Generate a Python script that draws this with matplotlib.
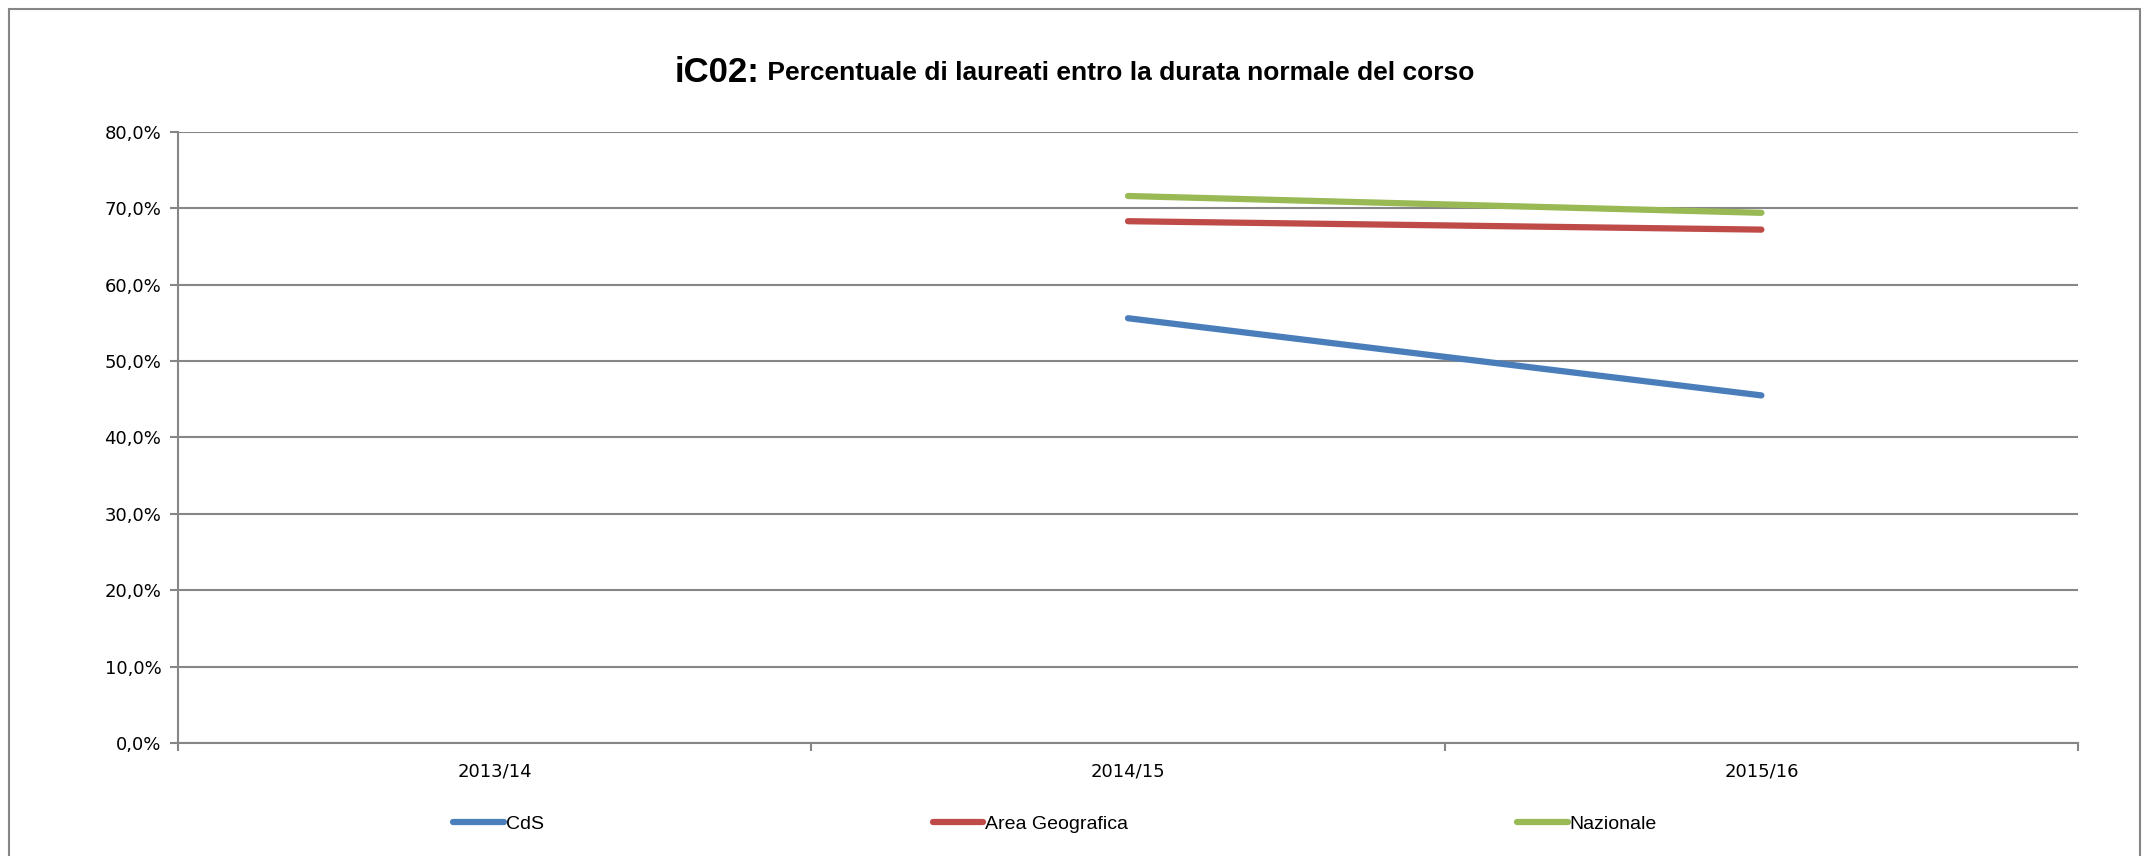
import numpy as np
import matplotlib.pyplot as plt
from matplotlib.ticker import FuncFormatter, FixedLocator
from matplotlib.patches import Rectangle

# data (percent)
years = ['2013/14', '2014/15', '2015/16']
cds = [np.nan, 55.6, 45.5]
area_geo = [np.nan, 68.3, 67.2]
nazionale = [np.nan, 71.6, 69.4]

colors = {'CdS': '#4A7EBB', 'Area Geografica': '#BE4B48', 'Nazionale': '#98B954'}
grid_col = '#868686'
narrow = ['Liberation Sans Narrow', 'Liberation Sans', 'DejaVu Sans']

fig = plt.figure(figsize=(21.49, 8.56), dpi=100)
ax = fig.add_axes([0.0828, 0.132, 0.967 - 0.0828, 0.846 - 0.132])

x = np.arange(len(years))
for name, vals in [('CdS', cds), ('Area Geografica', area_geo), ('Nazionale', nazionale)]:
    ax.plot(x, vals, color=colors[name], linewidth=4.5, solid_capstyle='round', label=name, zorder=3)

ax.set_xlim(-0.5, len(years) - 0.5)
ax.set_ylim(0, 80)
ax.set_yticks(np.arange(0, 81, 10))
ax.yaxis.set_major_formatter(FuncFormatter(lambda v, p: f'{v:.1f}%'.replace('.', ',')))
ax.set_xticks(x)
ax.set_xticklabels(years)
ax.xaxis.set_minor_locator(FixedLocator(np.arange(-0.5, len(years), 1.0)))
ax.tick_params(axis='x', which='major', length=0, pad=14, labelsize=13)
ax.tick_params(axis='x', which='minor', length=6, width=1.5, color=grid_col, direction='out')
ax.tick_params(axis='y', length=6, width=1.5, color=grid_col, direction='out', labelsize=13, pad=6)
ax.grid(axis='y', color=grid_col, linewidth=1.5)
ax.set_axisbelow(True)
for s in ['top', 'right']:
    ax.spines[s].set_visible(False)
for s in ['left', 'bottom']:
    ax.spines[s].set_color(grid_col)
    ax.spines[s].set_linewidth(1.5)

# title with larger bold prefix
t1 = fig.text(0, 0.915, 'iC02:', fontsize=25, fontweight='bold', family=narrow, va='center')
t2 = fig.text(0, 0.915, ' Percentuale di laureati entro la durata normale del corso',
              fontsize=19, fontweight='bold', family=narrow, va='center')
fig.canvas.draw()
r = fig.canvas.get_renderer()
w1 = t1.get_window_extent(r).width / fig.bbox.width
w2 = t2.get_window_extent(r).width / fig.bbox.width
x0 = 0.5 - (w1 + w2) / 2
t1.set_x(x0)
t2.set_x(x0 + w1)

leg = fig.legend(loc='center', bbox_to_anchor=(0.491, 1 - 824 / 856), ncol=3, frameon=False,
                 prop={'family': narrow, 'size': 14}, handlelength=2.6, handletextpad=0.1,
                 columnspacing=20)

fig.patches.append(Rectangle((0.004, -0.01), 0.992, 1.0, transform=fig.transFigure,
                             fill=False, edgecolor=grid_col, linewidth=1.5))

fig.savefig('out.png', dpi=100)
